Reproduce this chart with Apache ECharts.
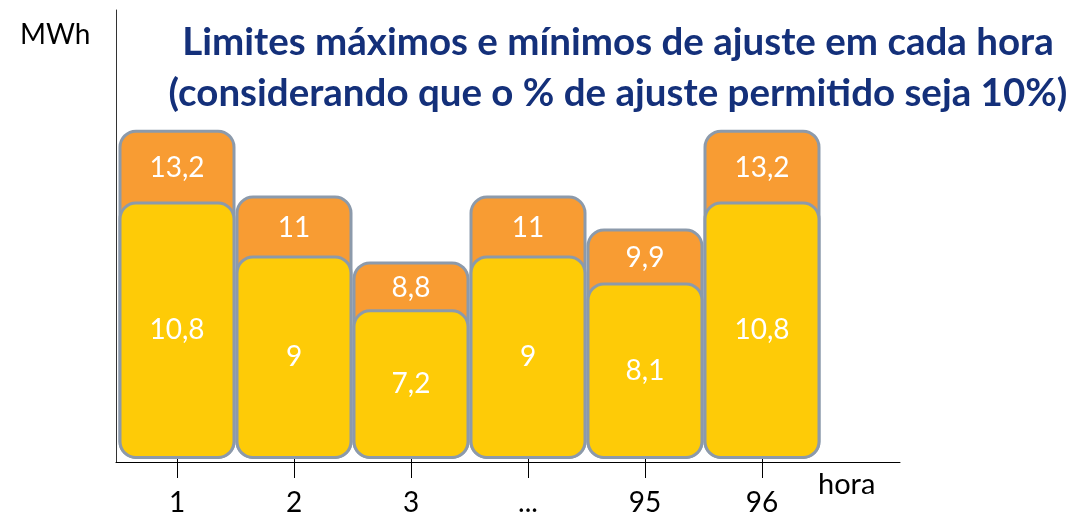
<!DOCTYPE html>
<html>
<head>
<meta charset="utf-8">
<style>
  html, body { margin: 0; padding: 0; background: #ffffff; }
  #chart { width: 1071px; height: 517px; }
</style>
<script src="https://cdn.jsdelivr.net/npm/echarts@6/dist/echarts.min.js"></script>
</head>
<body>
<div id="chart"></div>
<script>
// Hours shown on the horizontal axis
const hours = ['1', '2', '3', '...', '95', '96'];
// Upper adjustment limit per hour (MWh)
const maxValues = [13.2, 11, 8.8, 11, 9.9, 13.2];
// Lower adjustment limit per hour (MWh)
const minValues = [10.8, 9, 7.2, 9, 8.1, 10.8];

const Y_MIN = 2.2;
const Y_MAX = 17.2;
const GRID_TOP = 10;
const GRID_BOTTOM = 55;
const CHART_H = 517;
const pxPerUnit = (CHART_H - GRID_TOP - GRID_BOTTOM) / (Y_MAX - Y_MIN);

const FONT = 'Lato, "Open Sans", sans-serif';
const fmt = v => String(v).replace('.', ',');

const barBorder = { borderColor: '#8c9aab', borderWidth: 3, borderRadius: 16 };

// Upper-limit labels sit in the middle of the visible orange band
const maxData = maxValues.map((v, i) => ({
  value: v,
  label: { distance: (v - minValues[i]) * pxPerUnit / 2 - 14 + 2 }
}));

const chart = echarts.init(document.getElementById('chart'), null, { renderer: 'canvas' });

chart.setOption({
  backgroundColor: '#ffffff',
  animation: false,
  title: {
    text: 'Limites máximos e mínimos de ajuste em cada hora\n(considerando que o % de ajuste permitido seja 10%)',
    left: 613,
    top: 12,
    textAlign: 'center',
    textStyle: {
      fontFamily: FONT,
      fontSize: 38.5,
      fontWeight: 'bold',
      color: '#14307a',
      lineHeight: 51
    }
  },
  graphic: [
    {
      type: 'text', left: 20, top: 21,
      style: { text: 'MWh', fontFamily: FONT, fontSize: 28, fill: '#000000' }
    },
    {
      type: 'text', left: 818, top: 470,
      style: { text: 'hora', fontFamily: FONT, fontSize: 29, fill: '#000000' }
    }
  ],
  grid: [
    { left: 118.5, width: 702, top: GRID_TOP, bottom: GRID_BOTTOM },
    { left: 116, right: 171, top: GRID_TOP, bottom: GRID_BOTTOM }
  ],
  xAxis: [
    {
      type: 'category',
      gridIndex: 0,
      data: hours,
      axisLine: { show: false },
      axisTick: { show: true, alignWithLabel: true, length: 19, lineStyle: { color: '#000000', width: 1 } },
      axisLabel: { margin: 30, fontFamily: FONT, fontSize: 28, color: '#000000' },
      splitLine: { show: false }
    },
    {
      type: 'value',
      gridIndex: 1,
      min: 0, max: 1,
      axisLine: { show: true, onZero: false, lineStyle: { color: '#000000', width: 1 } },
      axisTick: { show: false },
      axisLabel: { show: false },
      splitLine: { show: false }
    }
  ],
  yAxis: [
    {
      type: 'value',
      gridIndex: 0,
      min: Y_MIN,
      max: Y_MAX,
      startValue: Y_MIN,
      axisLine: { show: false },
      axisTick: { show: false },
      axisLabel: { show: false },
      splitLine: { show: false }
    },
    {
      type: 'value',
      gridIndex: 1,
      min: 0, max: 1,
      axisLine: { show: true, onZero: false, lineStyle: { color: '#333333', width: 1 } },
      axisTick: { show: false },
      axisLabel: { show: false },
      splitLine: { show: false }
    }
  ],
  series: [
    {
      name: 'máximo',
      type: 'bar',
      xAxisIndex: 0,
      yAxisIndex: 0,
      data: maxData,
      barWidth: 117,
      barGap: '-100%',
      clip: false,
      itemStyle: Object.assign({ color: '#f89c33' }, barBorder),
      label: {
        show: true,
        position: 'insideTop',
        formatter: p => fmt(p.value),
        fontFamily: FONT,
        fontSize: 28,
        lineHeight: 28,
        color: '#ffffff'
      },
      z: 2
    },
    {
      name: 'mínimo',
      type: 'bar',
      xAxisIndex: 0,
      yAxisIndex: 0,
      data: minValues,
      barWidth: 117,
      barGap: '-100%',
      clip: false,
      itemStyle: Object.assign({ color: '#fecb07' }, barBorder),
      label: {
        show: true,
        position: 'inside',
        formatter: p => fmt(p.value),
        fontFamily: FONT,
        fontSize: 28,
        color: '#ffffff'
      },
      z: 3
    }
  ]
});
</script>
</body>
</html>
